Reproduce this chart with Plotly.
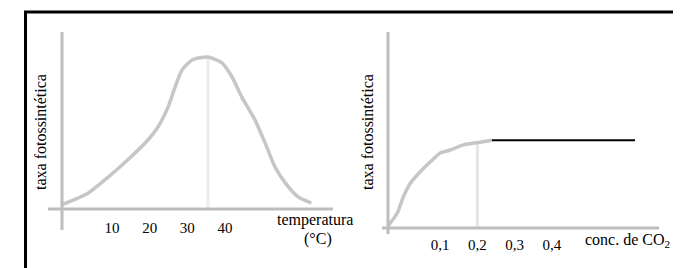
import plotly.graph_objects as go

# page is offset by the 8px default body margin; figure fills the rest
OFF = 8
W, H = 681 - OFF, 268 - OFF

# ---- data: left chart (temperature) ----
temp_c = [-3.3, 3.6, 8.9, 14.2, 18.8, 22.2, 24.9, 26.7, 28.6, 31.3, 35.5, 39.2,
          41.9, 44.5, 48, 50.7, 53.3, 56, 59.4, 63]
temp_rate = [2.5, 9, 18, 28, 37.5, 46.6, 58, 69, 79, 84.7, 86.4, 83,
             75, 63.6, 50.6, 37.5, 24, 15, 7, 3.4]
temp_ticks = [10, 20, 30, 40]
temp_peak = [35.5, 35.5]
temp_peak_rate = [0, 86]

# ---- data: right chart (CO2 concentration) ----
co2_c = [-0.042, -0.015, 0.001, 0.02, 0.046, 0.073, 0.1, 0.127, 0.162, 0.207, 0.239]
co2_rate = [0.5, 7.7, 15.9, 23, 28.7, 33.8, 38.5, 40, 42.6, 44, 45]
co2_plateau_c = [0.239, 0.623]
co2_plateau_rate = [45, 45]
co2_ticks = [0.1, 0.2, 0.3, 0.4]
co2_tick_text = ["0,1", "0,2", "0,3", "0,4"]
co2_mark = [0.2, 0.2]
co2_mark_rate = [0, 44]

FONT = "Liberation Serif, Times New Roman, serif"
CURVE = "#c6c6c6"
AXIS = "#bdbdbd"


def px(x):
    return (x - OFF) / W


def py(y):
    return 1 - (y - OFF) / H


fig = go.Figure()

# left
fig.add_trace(go.Scatter(x=temp_peak, y=temp_peak_rate, mode="lines",
                         line=dict(color="#ececec", width=3), xaxis="x", yaxis="y",
                         hoverinfo="skip"))
fig.add_trace(go.Scatter(x=temp_c, y=temp_rate, mode="lines", line_shape="spline",
                         line=dict(color=CURVE, width=3.5, smoothing=0.6),
                         xaxis="x", yaxis="y"))
# right
fig.add_trace(go.Scatter(x=co2_mark, y=co2_mark_rate, mode="lines",
                         line=dict(color="#e6e6e6", width=3), xaxis="x2", yaxis="y2",
                         hoverinfo="skip"))
fig.add_trace(go.Scatter(x=co2_c, y=co2_rate, mode="lines", line_shape="spline",
                         line=dict(color=CURVE, width=3.5, smoothing=0.6),
                         xaxis="x2", yaxis="y2"))
fig.add_trace(go.Scatter(x=co2_plateau_c, y=co2_plateau_rate, mode="lines",
                         line=dict(color="black", width=2), xaxis="x2", yaxis="y2"))

common_y = dict(range=[0, 100], showgrid=False, zeroline=False, showline=False,
                showticklabels=False, ticks="")
fig.update_layout(
    width=W, height=H, margin=dict(l=0, r=0, t=0, b=0),
    paper_bgcolor="white", plot_bgcolor="white", showlegend=False,
    font=dict(family=FONT, size=15, color="black"),
    xaxis=dict(domain=[px(62), px(333)], range=[-3.32, 68.75], anchor="y",
               tickvals=temp_ticks, ticktext=[str(t) for t in temp_ticks],
               showgrid=False, zeroline=False, showline=False, ticks="",
               ticklabelstandoff=8, tickfont=dict(family=FONT, size=15)),
    yaxis=dict(domain=[py(209), py(33)], anchor="x", **common_y),
    xaxis2=dict(domain=[px(388), px(657)], range=[-0.04, 0.682], anchor="y2",
                tickvals=co2_ticks, ticktext=co2_tick_text,
                showgrid=False, zeroline=False, showline=False, ticks="",
                ticklabelstandoff=6, tickfont=dict(family=FONT, size=15)),
    yaxis2=dict(domain=[py(228), py(33)], anchor="x2", **common_y),
)

shapes = []
# frame
shapes.append(dict(type="line", xref="paper", yref="paper", x0=px(24), x1=1.02,
                   y0=py(12), y1=py(12), line=dict(color="black", width=3)))
shapes.append(dict(type="line", xref="paper", yref="paper", x0=px(25.5), x1=px(25.5),
                   y0=py(11), y1=-0.02, line=dict(color="black", width=3)))
# left axes
shapes.append(dict(type="line", xref="paper", yref="paper", x0=px(48), x1=px(333),
                   y0=py(209), y1=py(209), line=dict(color=AXIS, width=3)))
shapes.append(dict(type="line", xref="paper", yref="paper", x0=px(62), x1=px(62),
                   y0=py(230), y1=py(32), line=dict(color=AXIS, width=3)))
# right axes
shapes.append(dict(type="line", xref="paper", yref="paper", x0=px(382), x1=px(659),
                   y0=py(228), y1=py(228), line=dict(color=AXIS, width=3)))
shapes.append(dict(type="line", xref="paper", yref="paper", x0=px(388), x1=px(388),
                   y0=py(234), y1=py(32), line=dict(color=AXIS, width=3)))
fig.update_layout(shapes=shapes)

ann = [
    dict(text="taxa fotossintética", x=px(40), y=py(132), textangle=-90),
    dict(text="taxa fotossintética", x=px(367), y=py(132), textangle=-90),
    dict(text="temperatura", x=px(315), y=py(220)),
    dict(text="(°C)", x=px(318), y=py(239)),
    dict(text="conc. de CO<sub>2</sub> (%)", x=px(583), y=py(240), xanchor="left"),
]
for a in ann:
    a.setdefault("xanchor", "center")
    fig.add_annotation(xref="paper", yref="paper", showarrow=False, yanchor="middle",
                       font=dict(family=FONT, size=16, color="black"), **a)

fig.write_html("out.html")
